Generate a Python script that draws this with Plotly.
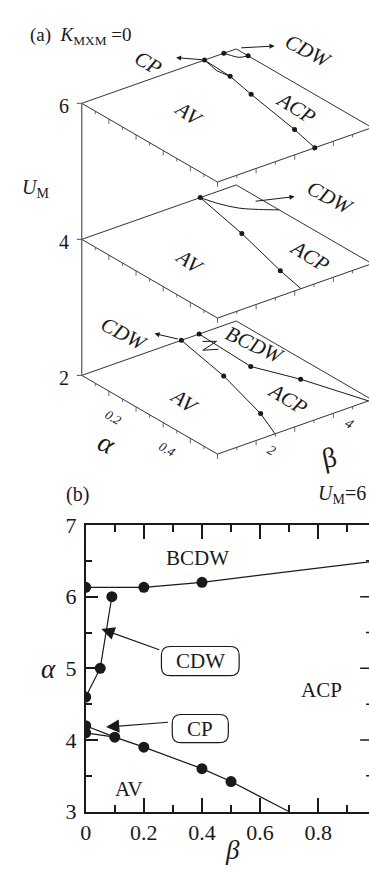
import numpy as np
import plotly.graph_objects as go

# ================= DATA =================
# ---- panel (a): phase boundaries in (alpha, beta) for each U_M plane ----
u_levels = [2, 4, 6]
u_tick_labels = ["2", "4", "6"]
a_alpha_lim = [0.0, 0.5]
a_beta_lim = [1.0, 5.0]
a_alpha_tickvals = [0.2, 0.4]
a_alpha_ticklabels = ["0.2", "0.4"]
a_beta_tickvals = [2, 4]
a_beta_ticklabels = ["2", "4"]

# U_M = 6
u6_acp_alpha = [0.0, 0.1, 0.2, 0.4, 0.5]
u6_acp_beta = [4.18, 4.14, 3.98, 3.70, 3.52]
u6_cp_alpha = [0.0, 0.06, 0.1]
u6_cp_beta = [4.18, 4.08, 4.14]
u6_cdw_alpha = [0.0, 0.02, 0.037, 0.044]
u6_cdw_beta = [4.68, 4.74, 4.81, 5.0]
u6_dot_alpha = [0.0, 0.0, 0.044, 0.1, 0.2, 0.4, 0.5]
u6_dot_beta = [4.18, 4.68, 5.0, 4.14, 3.98, 3.70, 3.52]
# U_M = 4
u4_acp_alpha = [0.0, 0.2, 0.4, 0.5]
u4_acp_beta = [4.07, 3.74, 3.33, 3.16]
u4_cdw_alpha = [0.0, 0.05, 0.095, 0.13, 0.158]
u4_cdw_beta = [4.07, 4.20, 4.40, 4.70, 5.0]
u4_dot_alpha = [0.0, 0.2, 0.4]
u4_dot_beta = [4.07, 3.74, 3.33]
# U_M = 2
u2_acp_alpha = [0.0, 0.2, 0.4, 0.5]
u2_acp_beta = [3.58, 3.27, 2.82, 2.49]
u2_bcdw_alpha = [0.0, 0.2, 0.32, 0.5]
u2_bcdw_beta = [4.04, 3.97, 4.42, 4.91]
u2_cdw_alpha = [0.034, 0.053, 0.069, 0.087]
u2_cdw_beta = [3.89, 4.12, 3.65, 3.93]
u2_dot_alpha = [0.0, 0.0, 0.2, 0.4, 0.2, 0.32]
u2_dot_beta = [3.58, 4.04, 3.27, 2.82, 3.97, 4.42]

# ---- panel (b): U_M = 6 ----
b_bcdw_beta = [0.0, 0.2, 0.4, 1.0]
b_bcdw_alpha = [6.13, 6.13, 6.20, 6.50]
b_cdw_beta = [0.0, 0.05, 0.09]
b_cdw_alpha = [4.60, 5.00, 6.00]
b_cp_beta = [0.0, 0.1]
b_cp_alpha = [4.10, 4.04]
b_av_beta = [0.0, 0.1, 0.2, 0.4, 0.5, 0.7]
b_av_alpha = [4.20, 4.04, 3.90, 3.60, 3.42, 3.00]
b_x_tickvals = [0, 0.2, 0.4, 0.6, 0.8]
b_x_ticklabels = ["0", "0.2", "0.4", "0.6", "0.8"]
b_y_tickvals = [3, 4, 5, 6, 7]
b_y_ticklabels = ["3", "4", "5", "6", "7"]

# ================= GEOMETRY / STYLE =================
W, H = 369, 882
INK = "#1a1a1a"
SERIF = "Liberation Serif, Times New Roman, DejaVu Serif, serif"

# oblique projection of panel (a) into page pixels
ORIGIN = (77.0, 374.0)          # (alpha=0, beta=1, U=2)
VA = (138.0 / 0.5, 81.0 / 0.5)  # per unit alpha
VB = (157.0 / 4.0, -56.0 / 4.0) # per unit beta
VU = (0.0, -70.0)               # per unit U


def proj(a, b, u):
    a = np.asarray(a, float)
    b = np.asarray(b, float)
    x = ORIGIN[0] + a * VA[0] + (b - 1.0) * VB[0] + (u - 2.0) * VU[0]
    y = ORIGIN[1] + a * VA[1] + (b - 1.0) * VB[1] + (u - 2.0) * VU[1]
    return x, y


fig = go.Figure()


def add_line(x, y, width=1.0, color=INK, shape="linear", xa="x", ya="y"):
    fig.add_trace(go.Scatter(x=x, y=y, mode="lines", xaxis=xa, yaxis=ya,
                             line=dict(color=color, width=width, shape=shape),
                             hoverinfo="skip", showlegend=False))


def add_dots(x, y, size, xa="x", ya="y"):
    fig.add_trace(go.Scatter(x=x, y=y, mode="markers", xaxis=xa, yaxis=ya,
                             marker=dict(color=INK, size=size),
                             hoverinfo="skip", showlegend=False))


# ---- panel (a): planes ----
a0, a1 = a_alpha_lim
b0, b1 = a_beta_lim
for u in u_levels:
    x, y = proj([a0, a0, a1, a1, a0], [b0, b1, b1, b0, b0], u)
    add_line(x, y, width=1.0, color="#333")
    # ticks on the alpha edge (beta = b0) and the beta edge (alpha = a1)
    tx, ty = [], []
    for av in np.arange(0.05, a1 + 1e-9, 0.05):
        px, py = proj(av, b0, u)
        ln = 5 if abs(av * 10 - round(av * 10)) < 1e-6 else 3
        tx += [float(px), float(px), None]
        ty += [float(py), float(py) + ln, None]
    for bv in np.arange(b0 + 0.5, b1 - 1e-9, 0.5):
        px, py = proj(a1, bv, u)
        ln = 5 if abs(bv - round(bv)) < 1e-6 else 3
        tx += [float(px), float(px), None]
        ty += [float(py), float(py) + ln, None]
    add_line(tx, ty, width=0.8, color="#444")

# vertical U axis
ux, uy = proj(0, b0, 2)
ux2, uy2 = proj(0, b0, 6)
add_line([float(ux), float(ux2)], [float(uy), float(uy2)], width=1.2, color="#555")
for u in u_levels:
    px, py = proj(0, b0, u)
    add_line([float(px) - 5, float(px)], [float(py), float(py)], width=1.0, color="#555")

# boundaries
for (al, be, u, shp) in [
    (u6_acp_alpha, u6_acp_beta, 6, "linear"),
    (u6_cp_alpha, u6_cp_beta, 6, "linear"),
    (u6_cdw_alpha, u6_cdw_beta, 6, "spline"),
    (u4_acp_alpha, u4_acp_beta, 4, "linear"),
    (u4_cdw_alpha, u4_cdw_beta, 4, "spline"),
    (u2_acp_alpha, u2_acp_beta, 2, "linear"),
    (u2_bcdw_alpha, u2_bcdw_beta, 2, "linear"),
    (u2_cdw_alpha, u2_cdw_beta, 2, "linear"),
]:
    x, y = proj(al, be, u)
    add_line(x, y, width=1.0, shape=shp)

for (al, be, u) in [(u6_dot_alpha, u6_dot_beta, 6),
                    (u4_dot_alpha, u4_dot_beta, 4),
                    (u2_dot_alpha, u2_dot_beta, 2)]:
    x, y = proj(al, be, u)
    add_dots(x, y, 5)

# ---- panel (b) ----
add_line(b_bcdw_beta, b_bcdw_alpha, width=1.2, xa="x2", ya="y2")
add_line(b_cdw_beta, b_cdw_alpha, width=1.2, xa="x2", ya="y2")
add_line(b_cp_beta, b_cp_alpha, width=1.2, xa="x2", ya="y2")
add_line(b_av_beta, b_av_alpha, width=1.2, xa="x2", ya="y2")
add_dots(b_bcdw_beta, b_bcdw_alpha, 11, xa="x2", ya="y2")
add_dots(b_cdw_beta, b_cdw_alpha, 11, xa="x2", ya="y2")
add_dots(b_cp_beta[:1], b_cp_alpha[:1], 11, xa="x2", ya="y2")
add_dots(b_av_beta[:-1], b_av_alpha[:-1], 11, xa="x2", ya="y2")

# ================= ANNOTATIONS =================
ann = []


def txt(s, x, y, size, angle=0, xanchor="center", yanchor="middle", ref=("x", "y")):
    ann.append(dict(text=s, x=x, y=y, xref=ref[0], yref=ref[1], showarrow=False,
                    textangle=angle, xanchor=xanchor, yanchor=yanchor,
                    font=dict(family=SERIF, size=size, color=INK)))


def arrow(hx, hy, tx, ty, size=1.0, width=1.0, ref=("x", "y")):
    ann.append(dict(text=" ", x=hx, y=hy, ax=tx, ay=ty, xref=ref[0], yref=ref[1],
                    axref=ref[0], ayref=ref[1], showarrow=True, arrowhead=2,
                    arrowsize=size, arrowwidth=width, arrowcolor=INK, standoff=0,
                    font=dict(size=2)))


# panel (a) titles
txt("(a)  <i>K</i><sub>MXM</sub> =0", 22, 25, 19, xanchor="left")
txt("<i>U</i><sub>M</sub>", 30, 182, 20)
for u, lab in zip(u_levels, u_tick_labels):
    px, py = proj(0, b0, u)
    txt(lab, float(px) - 11, float(py) + 3, 20, xanchor="right")
for av, lab in zip(a_alpha_tickvals, a_alpha_ticklabels):
    px, py = proj(av, b0, 2)
    txt("<i>" + lab + "</i>", float(px) - 23, float(py) + 11, 13, angle=30)
for bv, lab in zip(a_beta_tickvals, a_beta_ticklabels):
    px, py = proj(a1, bv, 2)
    txt("<i>" + lab + "</i>", float(px) + 16, float(py) + 10, 14, angle=30)
txt("<i>α</i>", 103, 444, 28, angle=25)
txt("β", 328, 458, 28, angle=-12)

# region labels (panel a)
for s, x, y, ang in [
    ("CP", 145, 52, 30), ("CDW", 307, 40, 28), ("AV", 186, 105, 35), ("ACP", 295, 99, 32),
    ("CDW", 330, 191, 28), ("AV", 187, 257, 35), ("ACP", 309, 251, 32),
    ("CDW", 120, 331, 28), ("BCDW", 253, 343, 25), ("AV", 181, 400, 35), ("ACP", 287, 398, 32),
]:
    txt("<i>" + s + "</i>", x, y, 21, angle=ang)

# arrows (panel a)
arrow(173, 47, 201.7, 49.3)
arrow(273, 35, 237, 37)
arrow(293.3, 190, 251.7, 195)
arrow(151, 331, 176.7, 337)

# panel (b) texts
txt("(b)", 73, 497, 20)
txt("<i>U</i><sub>M</sub>=6", 368, 497, 20, xanchor="right")
txt("<i>β</i>", 230, 862, 27)
txt("<i>α</i>", 43, 676, 27)
txt("BCDW", 0.386, 6.54, 21, ref=("x2", "y2"))
txt("ACP", 0.81, 4.70, 21, ref=("x2", "y2"))
txt("AV", 0.149, 3.31, 21, ref=("x2", "y2"))

# rounded label boxes (pixel coordinates)
shapes = []


def rbox(cx, cy, w, h, r):
    x0, x1, y0, y1 = cx - w / 2, cx + w / 2, cy - h / 2, cy + h / 2
    p = (f"M {x0 + r},{y0} L {x1 - r},{y0} Q {x1},{y0} {x1},{y0 + r} "
         f"L {x1},{y1 - r} Q {x1},{y1} {x1 - r},{y1} L {x0 + r},{y1} "
         f"Q {x0},{y1} {x0},{y1 - r} L {x0},{y0 + r} Q {x0},{y0} {x0 + r},{y0} Z")
    shapes.append(dict(type="path", path=p, xref="x", yref="y",
                       line=dict(color=INK, width=1.2), fillcolor="white"))


rbox(197.5, 668, 79, 30, 9)
rbox(197.5, 737.5, 57, 29, 9)
txt("CDW", 197.5, 668, 21)
txt("CP", 197.5, 737.5, 21)
arrow(0.054, 5.55, 0.26, 5.25, size=2.2, width=1.2, ref=("x2", "y2"))
arrow(0.07, 4.18, 0.29, 4.25, size=2.2, width=1.2, ref=("x2", "y2"))

# right-side mirror ticks of panel (b) (axis lies just beyond the page edge)
for v in np.arange(3.5, 7.0, 0.5):
    ln = 13 if abs(v - round(v)) < 1e-6 else 7
    shapes.append(dict(type="line", xref="paper", yref="y2", x0=(373 - ln) / W, x1=1.0,
                       y0=float(v), y1=float(v), line=dict(color=INK, width=1.5)))

# ================= LAYOUT =================
b_px0, b_px_per = 81.0, 295.5
b_top, b_bot = 528.0, 823.0
axis_font = dict(family=SERIF, size=22, color=INK)
fig.update_layout(
    width=W, height=H, margin=dict(l=0, r=0, t=0, b=0),
    paper_bgcolor="white", plot_bgcolor="rgba(0,0,0,0)",
    showlegend=False, font=dict(family=SERIF, color=INK),
    xaxis=dict(domain=[0, 1], range=[0, W], visible=False, fixedrange=True),
    yaxis=dict(domain=[0, 1], range=[H, 0], visible=False, fixedrange=True),
    xaxis2=dict(domain=[b_px0 / W, 1], range=[0, (W - b_px0) / b_px_per], anchor="y2",
                showline=True, linecolor=INK, linewidth=1.5, mirror="ticks",
                ticks="inside", ticklen=14, tickwidth=1.5, tickcolor=INK,
                tickvals=b_x_tickvals, ticktext=b_x_ticklabels,
                minor=dict(dtick=0.1, tick0=0, ticks="inside", ticklen=7, tickwidth=1.5, tickcolor=INK),
                showgrid=False, zeroline=False, tickfont=axis_font, ticklabelstandoff=0),
    yaxis2=dict(domain=[(H - b_bot) / H, (H - b_top) / H], range=[3, 7], anchor="x2",
                showline=True, linecolor=INK, linewidth=1.5, mirror=False,
                ticks="inside", ticklen=13, tickwidth=1.5, tickcolor=INK,
                tickvals=b_y_tickvals, ticktext=b_y_ticklabels,
                minor=dict(dtick=0.5, tick0=3, ticks="inside", ticklen=7, tickwidth=1.5, tickcolor=INK),
                showgrid=False, zeroline=False, tickfont=axis_font, ticklabelstandoff=3),
    annotations=ann, shapes=shapes,
)

fig.write_html("out.html")
